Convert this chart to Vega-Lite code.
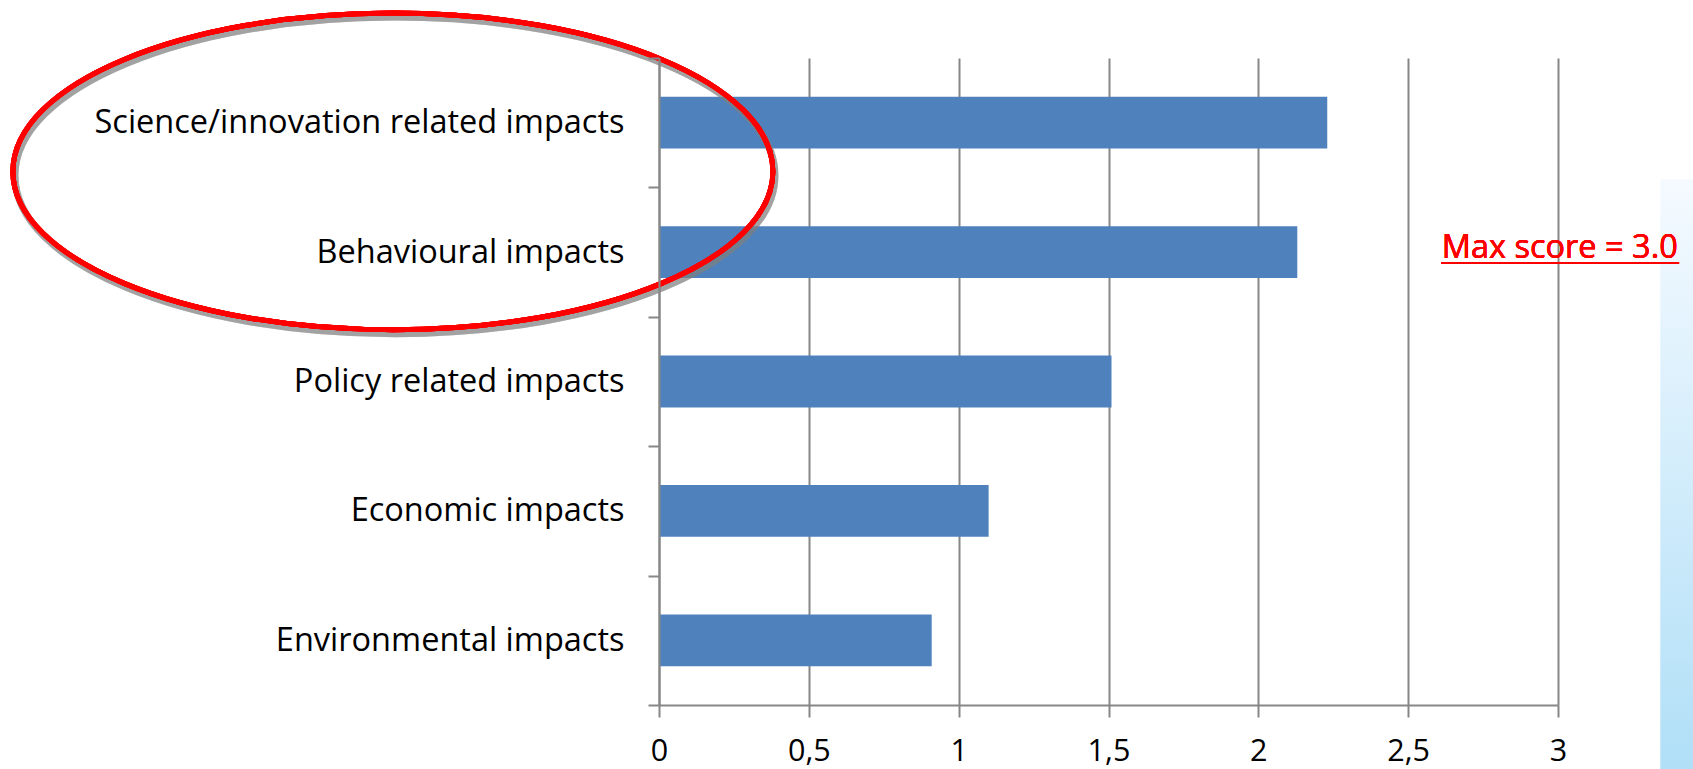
{
  "$schema": "https://vega.github.io/schema/vega-lite/v6.json",
  "autosize": {"type": "none"},
  "padding": {"left": 659, "top": 58, "right": 135, "bottom": 64},
  "width": 899,
  "height": 647,
  "background": "white",
  "config": {"view": {"stroke": null}, "font": "Open Sans"},
  "data": {"values": [
    {"category": "Science/innovation related impacts", "score": 2.23},
    {"category": "Behavioural impacts", "score": 2.13},
    {"category": "Policy related impacts", "score": 1.51},
    {"category": "Economic impacts", "score": 1.1},
    {"category": "Environmental impacts", "score": 0.91}
  ]},
  "encoding": {
    "y": {
      "field": "category", "type": "nominal", "sort": null,
      "scale": {"paddingInner": 0, "paddingOuter": 0,
        "domain": ["Science/innovation related impacts", "Behavioural impacts", "Policy related impacts", "Economic impacts", "Environmental impacts"]},
      "axis": {
        "title": null, "grid": false, "tickBand": "extent",
        "domainColor": "#878787", "domainWidth": 2,
        "tickColor": "#878787", "tickWidth": 2, "tickSize": 11,
        "labelFont": "Open Sans", "labelFontSize": 32.5, "labelColor": "#000000",
        "labelPadding": 24, "labelLimit": 700
      }
    }
  },
  "layer": [
    {
      "mark": {"type": "rect", "clip": false, "yOffset": 57, "y2Offset": 128.6,
        "fill": {"gradient": "linear", "x1": 0, "y1": 0, "x2": 0, "y2": 1,
          "stops": [{"offset": 0, "color": "#f5faff"}, {"offset": 1, "color": "#b0dff7"}]}},
      "encoding": {
        "x": {"datum": 3.343, "type": "quantitative", "scale": {"domain": [0, 3]}},
        "x2": {"datum": 3.46},
        "y": {"datum": "Science/innovation related impacts"},
        "y2": {"datum": "Environmental impacts"}
      }
    },
    {
      "mark": {"type": "bar", "color": "#4F81BD", "height": {"band": 0.4}},
      "encoding": {
        "x": {
          "field": "score", "type": "quantitative",
          "scale": {"domain": [0, 3], "nice": false, "zero": true},
          "axis": {
            "title": null, "values": [0, 0.5, 1, 1.5, 2, 2.5, 3],
            "labelExpr": "replace(format(datum.value, '~g'), '.', ',')",
            "grid": true, "gridColor": "#878787", "gridWidth": 2,
            "domainColor": "#878787", "domainWidth": 2,
            "tickColor": "#878787", "tickWidth": 2, "tickSize": 12,
            "labelFont": "Open Sans", "labelFontSize": 30.5, "labelColor": "#000000",
            "labelPadding": 19, "labelFlush": false
          }
        }
      }
    },
    {
      "mark": {"type": "point", "filled": false, "clip": false,
        "shape": "M -1 0 A 1 0.4166 0 1 1 1 0 A 1 0.4166 0 1 1 -1 0 Z",
        "size": 577600, "stroke": "#808080", "strokeWidth": 7, "opacity": 0.22,
        "yOffset": 52.7, "xOffset": 2},
      "encoding": {
        "x": {"datum": -0.888, "type": "quantitative"},
        "y": {"datum": "Science/innovation related impacts"}
      }
    },
    {
      "mark": {"type": "point", "filled": false, "clip": false,
        "shape": "M -1 0 A 1 0.4166 0 1 1 1 0 A 1 0.4166 0 1 1 -1 0 Z",
        "size": 577600, "stroke": "#ff0000", "strokeWidth": 5, "opacity": 1,
        "yOffset": 48.7},
      "encoding": {
        "x": {"datum": -0.888, "type": "quantitative"},
        "y": {"datum": "Science/innovation related impacts"}
      }
    },
    {
      "mark": {"type": "text", "text": "Max score = 3.0", "font": "Open Sans", "fontSize": 32.5,
        "fontWeight": "normal", "color": "#ff0000", "align": "left", "baseline": "alphabetic",
        "dy": 5.5, "clip": false},
      "encoding": {
        "x": {"datum": 2.612, "type": "quantitative"},
        "y": {"datum": "Behavioural impacts"}
      }
    },
    {
      "mark": {"type": "rule", "color": "#ff0000", "strokeWidth": 2, "yOffset": 11, "clip": false},
      "encoding": {
        "x": {"datum": 2.61, "type": "quantitative"},
        "x2": {"datum": 3.404},
        "y": {"datum": "Behavioural impacts"}
      }
    }
  ]
}
